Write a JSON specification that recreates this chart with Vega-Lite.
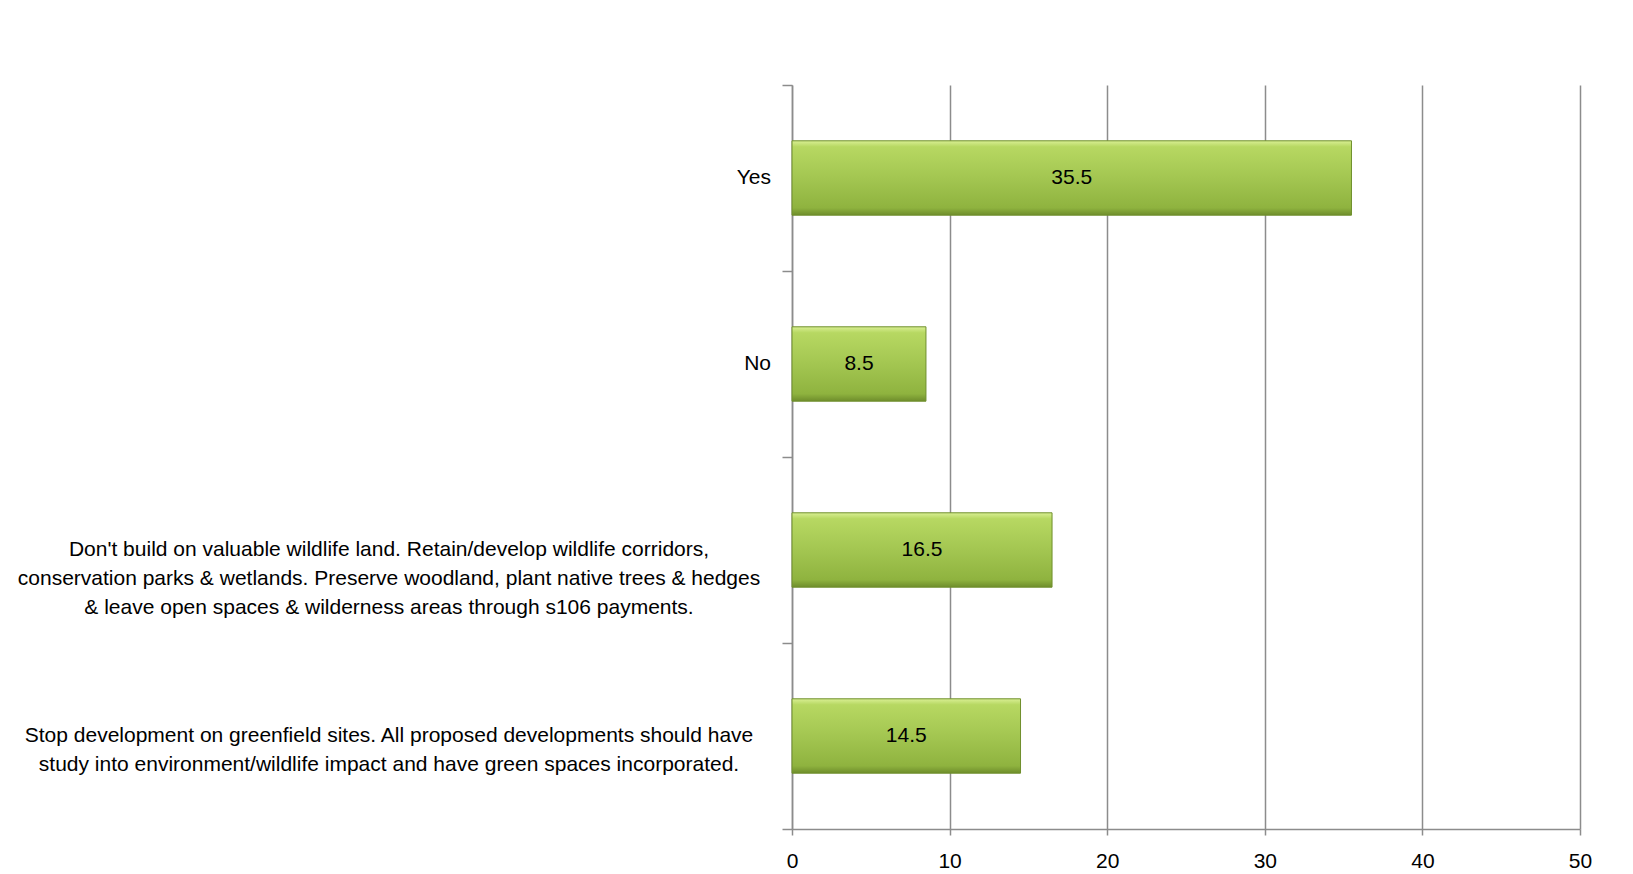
{
  "$schema": "https://vega.github.io/schema/vega-lite/v6.json",
  "autosize": {"type": "none"},
  "padding": {"left": 792, "top": 85, "right": 53, "bottom": 45},
  "width": 788,
  "height": 744,
  "background": "white",
  "config": {
    "view": {"stroke": null},
    "font": "Liberation Sans"
  },
  "data": {
    "values": [
      {"category": "Yes", "value": 35.5},
      {"category": "No", "value": 8.5},
      {"category": "Don't build on valuable wildlife land.  Retain/develop wildlife corridors,|conservation parks & wetlands. Preserve woodland, plant native trees & hedges|& leave open spaces & wilderness areas through s106 payments.", "value": 16.5},
      {"category": "Stop development on greenfield sites. All proposed developments should have|study into environment/wildlife impact and have green spaces incorporated.", "value": 14.5}
    ]
  },
  "encoding": {
    "y": {
      "field": "category",
      "type": "nominal",
      "sort": null,
      "scale": {"paddingInner": 0, "paddingOuter": 0},
      "axis": {
        "title": null,
        "labels": false,
        "tickBand": "extent",
        "tickSize": 10,
        "tickColor": "#8c8c8c",
        "tickWidth": 1.5,
        "domainColor": "#8c8c8c",
        "domainWidth": 1.5,
        "grid": false
      }
    }
  },
  "layer": [
    {
      "mark": {
        "type": "bar",
        "height": {"band": 0.4},
        "stroke": "#6f8f2c",
        "strokeWidth": 1,
        "color": {
          "gradient": "linear",
          "x1": 0, "y1": 0, "x2": 0, "y2": 1,
          "stops": [
            {"offset": 0, "color": "#d9ef94"},
            {"offset": 0.08, "color": "#b7d862"},
            {"offset": 0.5, "color": "#a3c651"},
            {"offset": 0.9, "color": "#8fb33f"},
            {"offset": 1, "color": "#6e8d2b"}
          ]
        }
      },
      "encoding": {
        "x": {
          "field": "value",
          "type": "quantitative",
          "scale": {"domain": [0, 50], "nice": false},
          "axis": {
            "title": null,
            "values": [0, 10, 20, 30, 40, 50],
            "grid": true,
            "gridColor": "#8c8c8c",
            "gridWidth": 1.5,
            "domainColor": "#8c8c8c",
            "domainWidth": 1.5,
            "tickColor": "#8c8c8c",
            "tickWidth": 1.5,
            "tickSize": 6,
            "labelPadding": 15,
            "labelFontSize": 21,
            "labelColor": "#000000",
            "labelFlush": false
          }
        }
      }
    },
    {
      "mark": {"type": "text", "fontSize": 21, "color": "#000000", "align": "center", "baseline": "middle"},
      "encoding": {
        "x": {
          "field": "value",
          "type": "quantitative",
          "scale": {"domain": [0, 100], "nice": false},
          "axis": null
        },
        "text": {"field": "value", "type": "quantitative", "format": ".1f"}
      }
    },
    {
      "transform": [{"filter": "length(datum.category) < 10"}],
      "mark": {"type": "text", "fontSize": 21, "color": "#000000", "align": "right", "baseline": "middle", "dx": -21},
      "encoding": {
        "x": {"datum": 0, "type": "quantitative", "scale": {"domain": [0, 50], "nice": false}, "axis": null},
        "text": {"field": "category", "type": "nominal"}
      }
    },
    {
      "transform": [{"filter": "length(datum.category) >= 10"}],
      "mark": {"type": "text", "fontSize": 21, "color": "#000000", "align": "center", "baseline": "middle", "dx": -403, "lineBreak": "|", "lineHeight": 29},
      "encoding": {
        "x": {"datum": 0, "type": "quantitative", "scale": {"domain": [0, 50], "nice": false}, "axis": null},
        "text": {"field": "category", "type": "nominal"}
      }
    }
  ],
  "resolve": {"scale": {"x": "independent"}}
}
